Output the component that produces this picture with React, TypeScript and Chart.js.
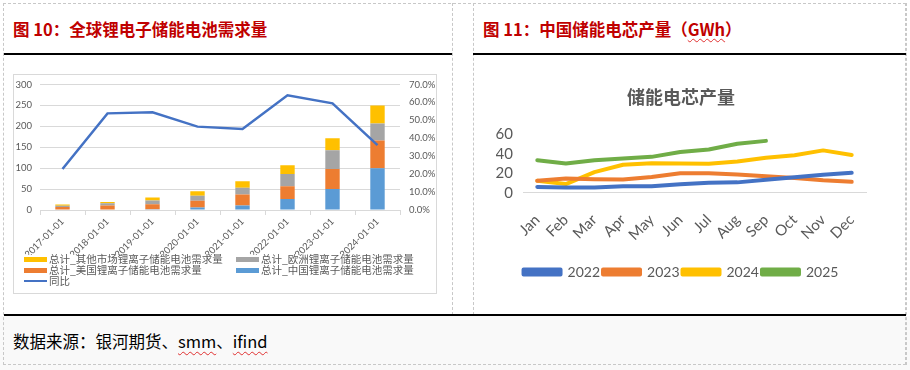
import React, { useEffect, useRef } from "react";
import { Chart, registerables } from "chart.js";
Chart.register(...registerables);

// ---------- Left chart data (图10) ----------
const years = ["2017-01-01", "2018-01-01", "2019-01-01", "2020-01-01", "2021-01-01", "2022-01-01", "2023-01-01", "2024-01-01"];
const chinaDemand = [1, 1, 2, 6, 11, 26, 50, 100];
const usDemand = [6, 10, 12, 16, 26, 31, 48, 66];
const europeDemand = [3, 5, 9, 12, 16, 29, 45, 41];
const otherDemand = [3, 3, 7, 11, 16, 21, 28.5, 43];
const yoyPct = [22.9, 53.9, 54.5, 46.5, 45.2, 64.0, 59.5, 36.2];
const leftTicks = [0, 50, 100, 150, 200, 250, 300];

// ---------- Right chart data (图11) ----------
const months = ["Jan", "Feb", "Mar", "Apr", "May", "Jun", "Jul", "Aug", "Sep", "Oct", "Nov", "Dec"];
const prod2022 = [6.2, 5.5, 5.5, 6.8, 6.8, 8.8, 10.4, 10.8, 13.4, 16.0, 18.6, 20.5];
const prod2023 = [12.4, 14.7, 14.0, 13.7, 16.3, 20.2, 20.2, 18.9, 17.0, 15.3, 13.0, 11.4];
const prod2024 = [12.4, 9.1, 21.2, 28.7, 30.3, 30.0, 29.7, 32.0, 35.9, 38.5, 43.4, 38.8];
const prod2025 = [33.3, 30.0, 33.3, 35.2, 36.8, 41.7, 44.3, 50.2, 53.1];

const C_BLUE = "#5B9BD5";
const C_ORANGE = "#ED7D31";
const C_GRAY = "#A5A5A5";
const C_YELLOW = "#FFC000";
const C_LINE = "#4472C4";
const C_GREEN = "#70AD47";
const TXT = "#595959";
const CJK = "'Noto Sans CJK SC', sans-serif";
const NUM = "Lato, 'Noto Sans CJK SC', sans-serif";

const fixX = (h?: number) => (s: any) => {
  s.paddingLeft = 0;
  s.paddingRight = 0;
  if (h !== undefined) s.height = h;
};
const fixY = (w: number) => (s: any) => {
  s.paddingTop = 0;
  s.paddingBottom = 0;
  s.width = w;
};

function LeftChart() {
  const ref = useRef<HTMLCanvasElement | null>(null);
  useEffect(() => {
    if (!ref.current) return;
    const chart = new Chart(ref.current, {
      type: "bar",
      data: {
        labels: years,
        datasets: [
          {
            type: "line",
            label: "同比",
            data: yoyPct,
            yAxisID: "y1",
            borderColor: C_LINE,
            backgroundColor: C_LINE,
            borderWidth: 2.5,
            pointRadius: 0,
            tension: 0,
            order: 0,
          } as any,
          { label: "总计_中国锂离子储能电池需求量", data: chinaDemand, backgroundColor: C_BLUE, stack: "s", yAxisID: "y", order: 1 },
          { label: "总计_美国锂离子储能电池需求量", data: usDemand, backgroundColor: C_ORANGE, stack: "s", yAxisID: "y", order: 1 },
          { label: "总计_欧洲锂离子储能电池需求量", data: europeDemand, backgroundColor: C_GRAY, stack: "s", yAxisID: "y", order: 1 },
          { label: "总计_其他市场锂离子储能电池需求量", data: otherDemand, backgroundColor: C_YELLOW, stack: "s", yAxisID: "y", order: 1 },
        ],
      },
      options: {
        animation: false,
        responsive: false,
        layout: { padding: { left: 1, right: 1, top: 9.5, bottom: 0 } },
        datasets: { bar: { barPercentage: 0.32, categoryPercentage: 1 } },
        plugins: { legend: { display: false }, tooltip: { enabled: false } },
        scales: {
          x: {
            stacked: true,
            afterFit: fixX(45),
            grid: { offset: true, drawOnChartArea: false, drawTicks: true, tickLength: 5, color: "#d9d9d9" },
            border: { color: "#d9d9d9" },
            ticks: { minRotation: 45, maxRotation: 45, autoSkip: false, color: TXT, font: { size: 9.5, family: NUM }, padding: 1 },
          },
          y: {
            stacked: true,
            min: 0,
            max: 300,
            afterFit: fixY(25),
            afterBuildTicks: (s: any) => { s.ticks = leftTicks.map((v) => ({ value: v })); },
            grid: { color: "#d9d9d9", drawTicks: false },
            border: { display: false },
            ticks: { color: TXT, font: { size: 9.5, family: NUM }, padding: 8, autoSkip: false },
          },
          y1: {
            position: "right",
            min: 0,
            max: 70,
            afterFit: fixY(35),
            grid: { drawOnChartArea: false, drawTicks: false },
            border: { display: false },
            ticks: { stepSize: 10, autoSkip: false, color: TXT, font: { size: 9.5, family: NUM }, padding: 9, callback: (v: any) => Number(v).toFixed(1) + "%" },
          },
        },
      },
    });
    return () => chart.destroy();
  }, []);
  return <canvas ref={ref} width={422} height={180} style={{ position: "absolute", left: 14, top: 75, width: 422, height: 180 }} />;
}

function RightChart() {
  const ref = useRef<HTMLCanvasElement | null>(null);
  useEffect(() => {
    if (!ref.current) return;
    const mk = (label: string, data: number[], color: string) => ({
      label,
      data,
      borderColor: color,
      backgroundColor: color,
      borderWidth: 4,
      pointRadius: 0,
      tension: 0,
      borderCapStyle: "round" as const,
      borderJoinStyle: "round" as const,
    });
    const chart = new Chart(ref.current, {
      type: "line",
      data: {
        labels: months,
        datasets: [mk("2022", prod2022, C_LINE), mk("2023", prod2023, C_ORANGE), mk("2024", prod2024, C_YELLOW), mk("2025", prod2025, C_GREEN)],
      },
      options: {
        animation: false,
        responsive: false,
        layout: { padding: { left: 22, right: 40, top: 0, bottom: 19 } },
        plugins: {
          tooltip: { enabled: false },
          title: {
            display: true,
            text: "储能电芯产量",
            color: TXT,
            font: { size: 18, family: CJK, weight: "bold" },
            padding: { top: 28, bottom: 26.5 },
          },
          legend: {
            position: "bottom",
            labels: { boxWidth: 37, boxHeight: 5, color: TXT, font: { size: 14, family: NUM }, padding: 3 },
          },
        },
        scales: {
          x: {
            offset: true,
            afterFit: fixX(),
            grid: { display: true, drawOnChartArea: false, drawTicks: false },
            border: { color: "#d9d9d9" },
            ticks: { minRotation: 45, maxRotation: 45, autoSkip: false, color: TXT, font: { size: 15, family: NUM }, padding: 18 },
          },
          y: {
            min: 0,
            max: 60,
            afterFit: fixY(27),
            grid: { display: false, drawTicks: false },
            border: { display: false },
            ticks: { stepSize: 20, autoSkip: false, color: TXT, font: { size: 15, family: NUM }, padding: 10 },
          },
        },
      },
    });
    return () => chart.destroy();
  }, []);
  return <canvas ref={ref} width={432} height={250} style={{ position: "absolute", left: 474, top: 58, width: 432, height: 250 }} />;
}

const legendItems = [
  { text: "总计_其他市场锂离子储能电池需求量", color: C_YELLOW, x: 24, y: 259, line: false },
  { text: "总计_欧洲锂离子储能电池需求量", color: C_GRAY, x: 236, y: 259, line: false },
  { text: "总计_美国锂离子储能电池需求量", color: C_ORANGE, x: 24, y: 270, line: false },
  { text: "总计_中国锂离子储能电池需求量", color: C_BLUE, x: 236, y: 270, line: false },
  { text: "同比", color: C_LINE, x: 24, y: 281, line: true },
];

export default function App() {
  const dashed = "1px dashed #c8c8c8";
  const squiggle: React.CSSProperties = { textDecoration: "underline wavy #e03030", textDecorationThickness: 1, textUnderlineOffset: 3 };
  const titleStyle: React.CSSProperties = {
    position: "absolute",
    top: 18,
    fontFamily: CJK,
    fontWeight: 700,
    fontSize: 16.5,
    lineHeight: "22px",
    color: "#C00000",
    whiteSpace: "nowrap",
  };
  return (
    <div style={{ position: "fixed", left: 0, top: 0, width: 910, height: 370, background: "#ffffff", overflow: "hidden" }}>
      <div style={{ position: "absolute", left: 0, top: 316, width: 910, height: 54, background: "#f9f9f9" }} />
      <div style={{ position: "absolute", left: 3, top: 3, width: 903, height: 362, border: dashed, boxSizing: "border-box" }} />
      <div style={{ position: "absolute", left: 452, top: 3, width: 0, height: 312, borderLeft: dashed }} />
      <div style={{ position: "absolute", left: 473, top: 3, width: 0, height: 312, borderLeft: dashed }} />
      <div style={{ position: "absolute", left: 906, top: 3, width: 0, height: 362, borderLeft: dashed }} />
      {/* black rules */}
      <div style={{ position: "absolute", left: 4, top: 53, width: 448, height: 1.5, background: "#000" }} />
      <div style={{ position: "absolute", left: 473, top: 53, width: 433, height: 1.5, background: "#000" }} />
      <div style={{ position: "absolute", left: 4, top: 314, width: 902, height: 1.5, background: "#000" }} />

      <div style={{ ...titleStyle, left: 13 }}>图 10：全球锂电子储能电池需求量</div>
      <div style={{ ...titleStyle, left: 483 }}>
        图 11：中国储能电芯产量（<span style={{ ...squiggle, textUnderlineOffset: 2 }}>GWh</span>）
      </div>

      {/* left chart box */}
      <div style={{ position: "absolute", left: 13, top: 74, width: 424, height: 220, border: "1px solid #d9d9d9", boxSizing: "border-box", background: "#fff" }} />
      <LeftChart />
      {legendItems.map((it, i) => (
        <div key={i} style={{ position: "absolute", left: it.x, top: it.y - 7, height: 14, display: "flex", alignItems: "center", whiteSpace: "nowrap" }}>
          <div style={{ width: 23, height: it.line ? 2.5 : 5, background: it.color, marginRight: 2 }} />
          <span style={{ fontFamily: CJK, fontSize: 10.5, color: TXT, lineHeight: "14px" }}>{it.text}</span>
        </div>
      ))}

      <RightChart />

      <div style={{ position: "absolute", left: 13, top: 330, fontFamily: CJK, fontSize: 16.5, lineHeight: "22px", color: "#000", whiteSpace: "nowrap" }}>
        数据来源：银河期货、<span style={squiggle}>smm</span>、<span style={squiggle}>ifind</span>
      </div>
    </div>
  );
}
